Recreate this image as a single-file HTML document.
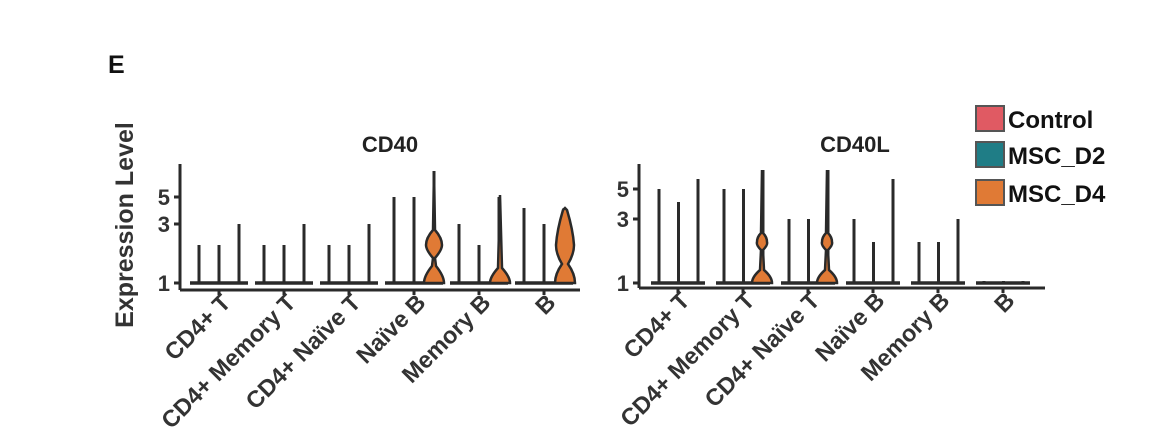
<!DOCTYPE html>
<html><head><meta charset="utf-8"><style>
html,body{margin:0;padding:0;background:#fff;}
svg{display:block;font-family:"Liberation Sans",Arial,sans-serif;font-weight:bold;}
</style></head><body>
<svg id="s" width="1150" height="442" viewBox="0 0 1150 442">
<text x="108" y="73" font-size="25" fill="#111">E</text>
<text transform="translate(133,225) rotate(-90)" text-anchor="middle" font-size="25" fill="#333">Expression Level</text>
<text x="390" y="152" text-anchor="middle" font-size="22" fill="#222">CD40</text>
<text x="855" y="152" text-anchor="middle" font-size="22" fill="#222">CD40L</text>
<rect x="976" y="106" width="28" height="25" fill="#e05a63" stroke="#555" stroke-width="2"/>
<rect x="976" y="142" width="28" height="25" fill="#1f7d86" stroke="#555" stroke-width="2"/>
<rect x="976" y="180" width="28" height="25" fill="#e07a35" stroke="#555" stroke-width="2"/>
<text x="1008" y="128" font-size="24" fill="#111">Control</text>
<text x="1008" y="164" font-size="24" fill="#111">MSC_D2</text>
<text x="1008" y="202" font-size="24" fill="#111">MSC_D4</text>
<g id="g"></g>
</svg>
<script>
var g=document.getElementById('g'),h='';
function L(x1,y1,x2,y2,w,c){h+='<line x1="'+x1+'" y1="'+y1+'" x2="'+x2+'" y2="'+y2+'" stroke="'+(c||'#2a2a2a')+'" stroke-width="'+(w||3)+'"/>';}
function T(x,y,t,a,r){h+='<text x="'+x+'" y="'+y+'" font-size="'+(r?23.5:22)+'" fill="#333" text-anchor="'+(a||'end')+'"'+(r?' transform="rotate(-45 '+x+' '+y+')"':'')+'>'+t+'</text>';}
function V(p){h+='<path d="'+p+'" fill="#e07a35" stroke="#2a2a2a" stroke-width="2.5"/>';}
var labs=['CD4+ T','CD4+ Memory T','CD4+ Naïve T','Naïve B','Memory B','B'];
L(180,164,180,290);L(180,290,580,290);
[[1,283],[3,224],[5,197]].forEach(function(t){L(174,t[1],180,t[1]);T(170,t[1]+8,t[0],'end');});
var lt=[[245,245,224],[245,245,224],[245,245,224],[197,197,171],[224,245,197],[208,224,208]];
for(var i=0;i<6;i++){var c=219+65*i;L(c-29,283,c+29,283,3.5);L(c,290,c,295);
 for(var j=0;j<3;j++){var x=c-20+20*j;L(x,283,x,lt[i][j]);}
 T(c+13,304,labs[i],'end',1);}
V('M424,283 Q424,276 432,266 L433,258 Q426,250 426,245 Q426,238 433,230 L434,171 L435,230 Q442,238 442,245 Q442,250 435,258 L436,266 Q444,276 444,283 Z');
V('M490,283 Q490,277 498,268 L500,195 L502,268 Q510,277 510,283 Z');
V('M555,283 Q555,274 562,264 Q556,254 556,245 Q557,230 563,210 L565,208 L567,210 Q573,230 574,245 Q574,254 568,264 Q575,274 575,283 Z');
L(639,164,639,288);L(639,288,1045,288);
[[1,283],[3,219],[5,189]].forEach(function(t){L(633,t[1],639,t[1]);T(629,t[1]+8,t[0],'end');});
var rt=[[189,202,179],[189,189,170],[219,219,170],[219,242,179],[242,242,219],[281,281,281]];
for(var i=0;i<6;i++){var c=678+65*i;L(c-27,283,c+27,283,3.5);L(c,288,c,293);
 for(var j=0;j<3;j++){var x=c-19+19.5*j;L(x,283,x,rt[i][j]);}
 T(c+13,302,labs[i],'end',1);}
V('M752,283 Q752,277 760,270 L761,250 Q756,245 757,242 Q757,237 761,233 L762,170 L763,233 Q767,237 767,242 Q768,245 763,250 L764,270 Q772,277 772,283 Z');
V('M817,283 Q817,277 825,270 L826,250 Q821,245 822,242 Q822,237 826,233 L827,170 L828,233 Q832,237 832,242 Q833,245 828,250 L829,270 Q837,277 837,283 Z');
g.innerHTML=h;
</script>
</body></html>
